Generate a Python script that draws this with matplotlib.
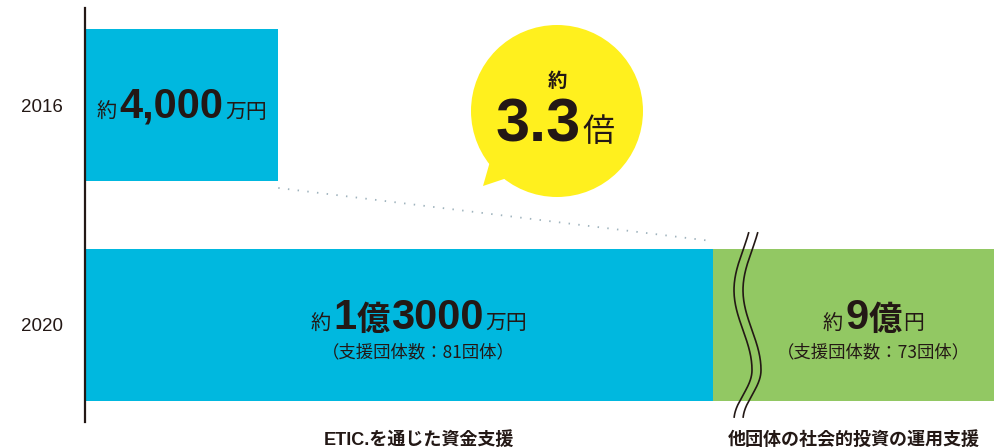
import matplotlib
matplotlib.use('Agg')
import matplotlib.pyplot as plt
import numpy as np
from matplotlib.patches import Circle, Polygon

# ---------------- data ----------------
years = ['2020', '2016']
etic_values = [13000, 4000]        # 万円 : ETIC.を通じた資金支援
other_value_2020 = 90000           # 万円 (約9億円) : 他団体の社会的投資の運用支援 (broken axis)
etic_groups_2020 = 81
other_groups_2020 = 73
ratio_text = '3.3'
bottom_labels = ['ETIC.を通じた資金支援', '他団体の社会的投資の運用支援']

# ---------------- style ----------------
CYAN = '#00B8DF'
GREEN = '#92C863'
YELLOW = '#FFF01E'
INK = '#231815'
DOT = '#9fb3bd'
JP = 'Noto Sans CJK JP'
LAT = 'Liberation Sans'

W, H = 994, 448
fig = plt.figure(figsize=(W / 100, H / 100), dpi=100)
AX_L, AX_B, AX_W, AX_H = 85, 26, 909, 414
ax = fig.add_axes([AX_L / W, AX_B / H, AX_W / W, AX_H / H])
px_per_unit = 628 / 13000
ax.set_xlim(0, AX_W / px_per_unit)
ax.set_ylim(-0.441, 1.441)

ypos = np.arange(len(years))
bh = 0.69
ax.barh(ypos, etic_values, height=bh, color=CYAN, zorder=2, linewidth=0)
ax.barh(ypos[0], other_value_2020, left=etic_values[0], height=bh, color=GREEN,
        zorder=2, linewidth=0)

# dotted connector between the two ETIC bars
ax.plot([etic_values[1], etic_values[0]],
        [ypos[1] - bh / 2 - 0.032, ypos[0] + bh / 2 + 0.036],
        color=DOT, lw=1.3, ls=(0, (0.8, 4.6)), zorder=1, solid_capstyle='round')

for s in ['top', 'right', 'bottom']:
    ax.spines[s].set_visible(False)
ax.spines['left'].set_color(INK)
ax.spines['left'].set_linewidth(1.6)
ax.spines['left'].set_zorder(3)
ax.set_xticks([])
ax.set_yticks(ypos, years)
ax.tick_params(axis='y', length=0, pad=16, labelsize=13.5, labelcolor=INK)
for lab in ax.get_yticklabels():
    lab.set_family(LAT)
ax.patch.set_alpha(0)

# overlay in pixel coordinates for annotations
ov = fig.add_axes([0, 0, 1, 1], zorder=5)
ov.set_xlim(0, W)
ov.set_ylim(H, 0)
ov.axis('off')
ov.patch.set_alpha(0)


def to_px(x, y):
    d = ax.transData.transform((x, y))
    return d[0], H - d[1]


renderer = fig.canvas.get_renderer()


def rich(xc, yb, pieces, color=INK):
    objs = []
    total = 0
    for s, size, weight, fam, gap in pieces:
        t = ov.text(0, 0, s, fontsize=size, fontweight=weight, family=fam,
                    color=color, va='baseline', ha='left')
        w = t.get_window_extent(renderer).width
        objs.append((t, w, gap))
        total += w + gap
    total -= objs[-1][2]
    x = xc - total / 2
    for t, w, gap in objs:
        t.set_position((x, yb))
        x += w + gap


# geometry in px
break_px = to_px(etic_values[0], 0)[0] + 39
break_x = etic_values[0] + 39 / px_per_unit
top20 = to_px(0, ypos[0] + bh / 2)[1]
bot20 = to_px(0, ypos[0] - bh / 2)[1]
cy16 = to_px(0, ypos[1])[1]
cy20 = to_px(0, ypos[0])[1]

# break wave lines
yy1 = np.linspace(top20 - 17, top20 + 121, 120)
yy2 = np.linspace(top20 + 121, bot20 + 17, 60)
xw1 = 9 * np.cos(np.pi * (yy1 - (top20 + 121)) / 80)
xw2 = 9 * np.cos(np.pi * (yy2 - (top20 + 121)) / 50)
yy = np.concatenate([yy1, yy2])
xw = np.concatenate([xw1, xw2])
for off in (-4.5, 4.5):
    ov.plot(break_px - 4.5 + off + xw * 1.0 - 0.0, yy, color=INK, lw=1.2,
            solid_capstyle='butt')

# 2016 label
x16 = to_px(etic_values[1] / 2, ypos[1])[0]
rich(x16, cy16 + 12.5, [('約', 14.5, 'normal', JP, 3),
                        (f'{etic_values[1]:,}', 30, 'bold', LAT, 2),
                        ('万円', 15, 'normal', JP, 0)])

# 2020 ETIC label
x20 = to_px(break_x / 2, 0)[0]
oku, man = divmod(etic_values[0], 10000)
rich(x20, cy20 + 4.5, [('約', 14.5, 'normal', JP, 3),
                       (f'{oku}', 30, 'bold', LAT, 0),
                       ('億', 24, 'bold', JP, 1),
                       (f'{man}', 30, 'bold', LAT, 2),
                       ('万円', 15, 'normal', JP, 0)])
rich(x20, cy20 + 32, [(f'（支援団体数：{etic_groups_2020}団体）', 12.5, 'normal', JP, 0)])

# 2020 other label
xg = (break_px + W) / 2
rich(xg, cy20 + 4.5, [('約', 14.5, 'normal', JP, 3),
                      (f'{other_value_2020 // 10000}', 30, 'bold', LAT, 0),
                      ('億', 24, 'bold', JP, 1),
                      ('円', 15, 'normal', JP, 0)])
rich(xg, cy20 + 32, [(f'（支援団体数：{other_groups_2020}団体）', 12.5, 'normal', JP, 0)])

# bubble
bx, by, br = 557, 111, 86
ov.add_patch(Polygon([(491, 158), (483, 186), (510, 177)], closed=True,
                     facecolor=YELLOW, edgecolor='none', zorder=1))
ov.add_patch(Circle((bx, by), br, facecolor=YELLOW, edgecolor='none', zorder=1))
rich(bx, 87, [('約', 14, 'bold', JP, 0)])
rich(bx - 2, 141, [(ratio_text, 44, 'bold', LAT, 2), ('倍', 23, 'normal', JP, 0)])

# bottom labels
x_b1 = x20
x_b2 = (to_px(etic_values[0], 0)[0] + W) / 2
for xc, lab in zip([x_b1, x_b2], bottom_labels):
    ov.text(xc, 445, lab, fontsize=13, fontweight='bold', family=[LAT, JP],
            color=INK, ha='center', va='baseline')

fig.savefig('out.png', dpi=100)
